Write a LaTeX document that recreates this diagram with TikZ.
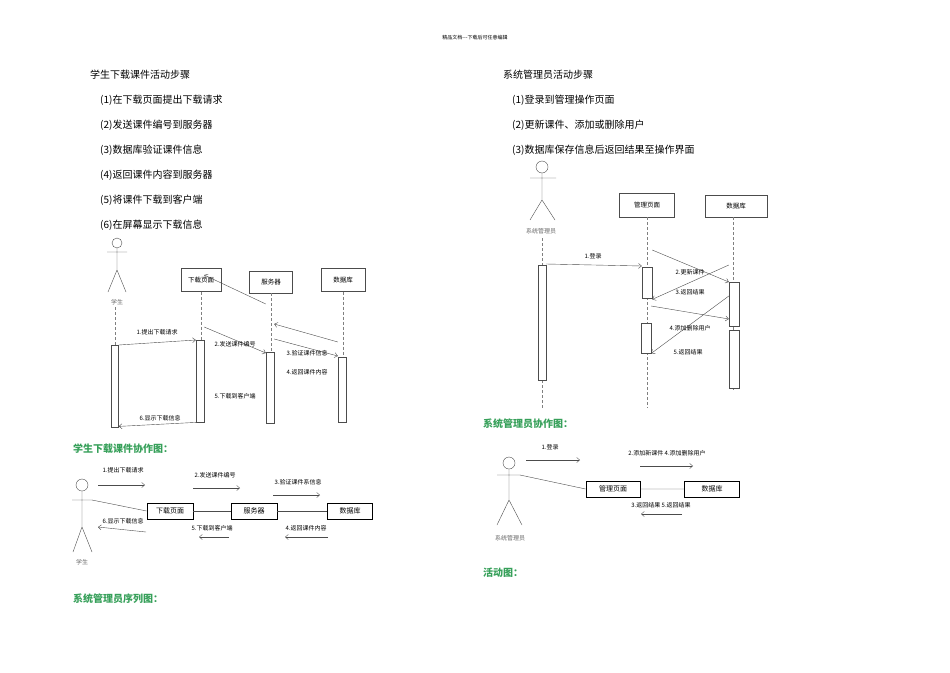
\documentclass[tikz,border=0pt]{standalone}
\usepackage{fontspec}
\newfontfamily\cjk{Noto Sans CJK SC}
\usetikzlibrary{arrows.meta}
\definecolor{gtitle}{RGB}{55,160,90}
\begin{document}
\begin{tikzpicture}[x=1pt,y=-1pt,
  every node/.style={font=\cjk, inner sep=0pt},
  txt/.style={font=\cjk\fontsize{10}{12}\selectfont, anchor=west},
  gt/.style={font=\cjk\bfseries\fontsize{10}{12}\selectfont, text=gtitle, anchor=west},
  lbl/.style={font=\cjk\fontsize{6}{7}\selectfont},
  obj/.style={draw=black!70, fill=white, font=\cjk\fontsize{6.5}{8}\selectfont},
  cobj/.style={draw=black, thick, fill=white, font=\cjk\fontsize{7}{8}\selectfont},
  act/.style={draw=black!70, fill=white},
  life/.style={draw=black!50, dashed, dash pattern=on 3pt off 2pt},
  msg/.style={draw=black!70, -{Straight Barb[length=3pt,width=5pt]}},
  fig/.style={draw=black!70}]
\useasboundingbox (0,0) rectangle (950,672);
\node[lbl, font=\cjk\fontsize{5}{6}\selectfont] (hdr) at (475,38) {精品文档---下载后可任意编辑};
% texts left
\node[txt] (t0) at (90,75) {学生下载课件活动步骤};
\node[txt] (t1) at (100,100) {(1)在下载页面提出下载请求};
\node[txt] (t2) at (100,125) {(2)发送课件编号到服务器};
\node[txt] (t3) at (100,150) {(3)数据库验证课件信息};
\node[txt] (t4) at (100,175) {(4)返回课件内容到服务器};
\node[txt] (t5) at (100,200) {(5)将课件下载到客户端};
\node[txt] (t6) at (100,225) {(6)在屏幕显示下载信息};
% texts right
\node[txt] (r0) at (503,75) {系统管理员活动步骤};
\node[txt] (r1) at (512,100) {(1)登录到管理操作页面};
\node[txt] (r2) at (512,125) {(2)更新课件、添加或删除用户};
\node[txt] (r3) at (512,150) {(3)数据库保存信息后返回结果至操作界面};
% ---------- left sequence
\draw[fig] (117,243) circle (5);
\draw[fig] (117,248) -- (117,270) (107,252) -- (127,252) (108,292) -- (117,270) -- (126,292);
\node[lbl, text=black!60] (sa) at (117,302) {学生};
\node[obj, minimum width=40, minimum height=23] (p1) at (201,280) {下载页面};
\node[obj, minimum width=43, minimum height=22] (s1) at (271,282) {服务器};
\node[obj, minimum width=44, minimum height=23] (d1) at (343,280) {数据库};
\draw[life] (115,307) -- (115,345);
\draw[life] (p1.south) -- (201,340);
\draw[life] (s1.south) -- (271,352);
\draw[life] (d1.south) -- (343,357);
\node[act, minimum width=7, minimum height=82, anchor=north] (a1) at (115,345) {};
\node[act, minimum width=8, minimum height=82, anchor=north] (a2) at (200,340) {};
\node[act, minimum width=8, minimum height=71, anchor=north] (a3) at (270,352) {};
\node[act, minimum width=8, minimum height=65, anchor=north] (a4) at (342,357) {};
\draw[msg] (a1.north east) -- (a2.north west);
\node[lbl] (m1) at (157,332) {1.提出下载请求};
\draw[msg] ([yshift=13]a2.north east) -- ([yshift=-1]a3.north west);
\node[lbl] (m2) at (235,344) {2.发送课件编号};
\draw[msg] ([yshift=13]a3.north east) -- ([yshift=1]a4.north west);
\node[lbl] (m3) at (307,353) {3.验证课件信息};
\draw[msg] ([yshift=15]a4.north west) -- ([yshift=28]a3.north east);
\node[lbl] (m4) at (307,372) {4.返回课件内容};
\draw[msg] ([yshift=48]a3.north west) -- ([yshift=65]a2.north east);
\node[lbl] (m5) at (235,396) {5.下载到客户端};
\draw[msg] (a2.south west) -- ([yshift=1]a1.south east);
\node[lbl] (m6) at (160,418) {6.显示下载信息};
% ---------- left collaboration
\node[gt] (g1) at (73,449) {学生下载课件协作图：};
\draw[fig] (82,485) circle (6);
\draw[fig] (82,491) -- (82,527) (72,500) -- (92,500) (73,552) -- (82,527) -- (92,552);
\node[lbl, text=black!60] (sb) at (82,562) {学生};
\node[cobj, minimum width=46, minimum height=16] (cp) at (170,511) {下载页面};
\node[cobj, minimum width=46, minimum height=16] (cs) at (254,511) {服务器};
\node[cobj, minimum width=45, minimum height=16] (cd) at (350,511) {数据库};
\draw[fig] (92,500) -- (cp.west);
\draw[fig] (cp) -- (cs) (cs) -- (cd);
\node[lbl] (c1) at (123,470) {1.提出下载请求};
\draw[msg] (98,485) -- (145,485);
\node[lbl] (c2) at (215,475) {2.发送课件编号};
\draw[msg] (193,488) -- (240,488);
\node[lbl] (c3) at (298,482) {3.验证课件系信息};
\draw[msg] (273,495) -- (320,495);
\node[lbl] (c6) at (123,521) {6.显示下载信息};
\draw[msg] (146,532) -- (98,527);
\node[lbl] (c5) at (212,528) {5.下载到客户端};
\draw[msg] (229,537) -- (199,537);
\node[lbl] (c4) at (306,528) {4.返回课件内容};
\draw[msg] (328,537) -- (285,537);
\node[gt] (g2) at (73,599) {系统管理员序列图：};
% ---------- right sequence
\draw[fig] (542,167) circle (6);
\draw[fig] (542,173) -- (542,200) (530,178) -- (556,178) (530,220) -- (542,200) -- (555,220);
\node[lbl, text=black!60] (sc) at (541,231) {系统管理员};
\node[obj, minimum width=55, minimum height=24] (mp) at (647,205) {管理页面};
\node[obj, minimum width=62, minimum height=22] (md) at (736,206) {数据库};
\draw[life] (542,238) -- (542,265) (542,380) -- (542,408);
\draw[life] (mp.south) -- (647,408);
\draw[life] (733,217) -- (733,390);
\node[act, minimum width=8, minimum height=115, anchor=north] (b1) at (542,265) {};
\node[act, minimum width=10, minimum height=31, anchor=north] (b2) at (647,267) {};
\node[act, minimum width=10, minimum height=30, anchor=north] (b3) at (646,323) {};
\node[act, minimum width=10, minimum height=44, anchor=north] (b4) at (734,282) {};
\node[act, minimum width=10, minimum height=58, anchor=north] (b5) at (734,330) {};
\draw[msg] ([yshift=1]b1.north east) -- ([yshift=1]b2.north west);
\node[lbl] (n1) at (593,256) {1.登录};
\draw[msg] ([yshift=17]b2.north east) -- (b4.north west);
\node[lbl] (n2) at (690,272) {2.更新课件};
\draw[msg] ([yshift=17]b4.north west) -- ([yshift=-1]b2.south east);
\node[lbl] (n3) at (690,292) {3.返回结果};
\draw[msg] ([yshift=17]b3.north east) -- ([yshift=11]b5.north west);
\node[lbl] (n4) at (690,328) {4.添加删除用户};
\draw[msg] ([yshift=34]b5.north west) -- (b3.south east);
\node[lbl] (n5) at (688,352) {5.返回结果};
% ---------- right collaboration
\node[gt] (g3) at (483,424) {系统管理员协作图：};
\draw[fig] (509,463) circle (6);
\draw[fig] (509,469) -- (509,500) (497,475) -- (520,475) (497,525) -- (509,500) -- (522,525);
\node[lbl, text=black!60] (sd) at (510,538) {系统管理员};
\node[cobj, minimum width=54, minimum height=16] (ap) at (613,489) {管理页面};
\node[cobj, minimum width=55, minimum height=16] (ad) at (712,489) {数据库};
\draw[fig] (520,475) -- (ap.west) (ap) -- (ad);
\node[lbl] (k1) at (550,447) {1.登录};
\draw[msg] (526,460) -- (580,460);
\node[lbl] (k2) at (667,453) {2.添加新课件 4.添加删除用户};
\draw[msg] (640,466) -- (693,466);
\node[lbl] (k3) at (661,505) {3.返回结果 5.返回结果};
\draw[msg] (682,514) -- (641,514);
\node[gt] (g4) at (483,573) {活动图：};
\end{tikzpicture}
\end{document}
